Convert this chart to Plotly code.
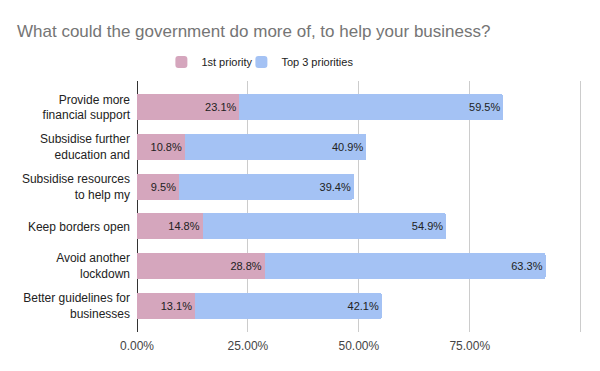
import plotly.graph_objects as go

categories = [
    "Provide more<br>financial support",
    "Subsidise further<br>education and",
    "Subsidise resources<br>to help my",
    "Keep borders open",
    "Avoid another<br>lockdown",
    "Better guidelines for<br>businesses",
]
first_priority = [23.1, 10.8, 9.5, 14.8, 28.8, 13.1]
top3_priorities = [59.5, 40.9, 39.4, 54.9, 63.3, 42.1]
tick_values = [0, 25, 50, 75, 100]
tick_labels = ["0.00%", "25.00%", "50.00%", "75.00%", ""]

FONT = "Liberation Sans, Arial, sans-serif"

fig = go.Figure()
fig.add_trace(go.Bar(
    y=categories, x=first_priority, orientation="h", name="1st priority",
    marker=dict(color="#d5a6bd", line=dict(width=0)),
    texttemplate="%{x:.1f}%", textposition="inside", insidetextanchor="end",
    textfont=dict(family=FONT, size=11, color="#222222"), textangle=0,
    legend="legend",
))
fig.add_trace(go.Bar(
    y=categories, x=top3_priorities, orientation="h", name="Top 3 priorities",
    marker=dict(color="#a4c2f4", line=dict(width=0)),
    texttemplate="%{x:.1f}%", textposition="inside", insidetextanchor="end",
    textfont=dict(family=FONT, size=11, color="#222222"), textangle=0,
    legend="legend2",
))

leg_common = dict(orientation="h", xanchor="left", y=1 + (81-62)/251, yanchor="middle",
                  font=dict(family=FONT, size=11, color="#222222"),
                  bgcolor="rgba(0,0,0,0)")

fig.update_layout(
    width=600, height=371,
    barmode="stack", bargap=0.345, barcornerradius=2,
    plot_bgcolor="white", paper_bgcolor="white",
    margin=dict(l=137, r=18, t=81, b=39),
    font=dict(family=FONT, size=12, color="#222222"),
    title=dict(text="What could the government do more of, to help your business?",
               font=dict(family=FONT, size=17, color="#757575"),
               x=17/600, xanchor="left", xref="container",
               y=1-31/371, yanchor="middle", yref="container"),
    legend=dict(x=0.0548, **leg_common),
    legend2=dict(x=0.2346, **leg_common),
    showlegend=True,
    hovermode=False,
)
fig.update_xaxes(range=[0, 100.3], tickvals=tick_values, ticktext=tick_labels,
                 showgrid=True, gridcolor="#cccccc", gridwidth=1,
                 zeroline=True, zerolinecolor="#333333", zerolinewidth=1,
                 showline=False, ticks="", ticklabelstandoff=5,
                 tickfont=dict(family=FONT, size=12, color="#444444"))
fig.update_yaxes(range=[5.66, -0.66], categoryorder="array", categoryarray=categories,
                 showgrid=False, zeroline=False, showline=False, ticks="",
                 ticklabelstandoff=6,
                 tickfont=dict(family=FONT, size=12, color="#222222"))

fig.write_html("out.html", config={"displayModeBar": False},
               post_script="document.body.style.margin='0';")
